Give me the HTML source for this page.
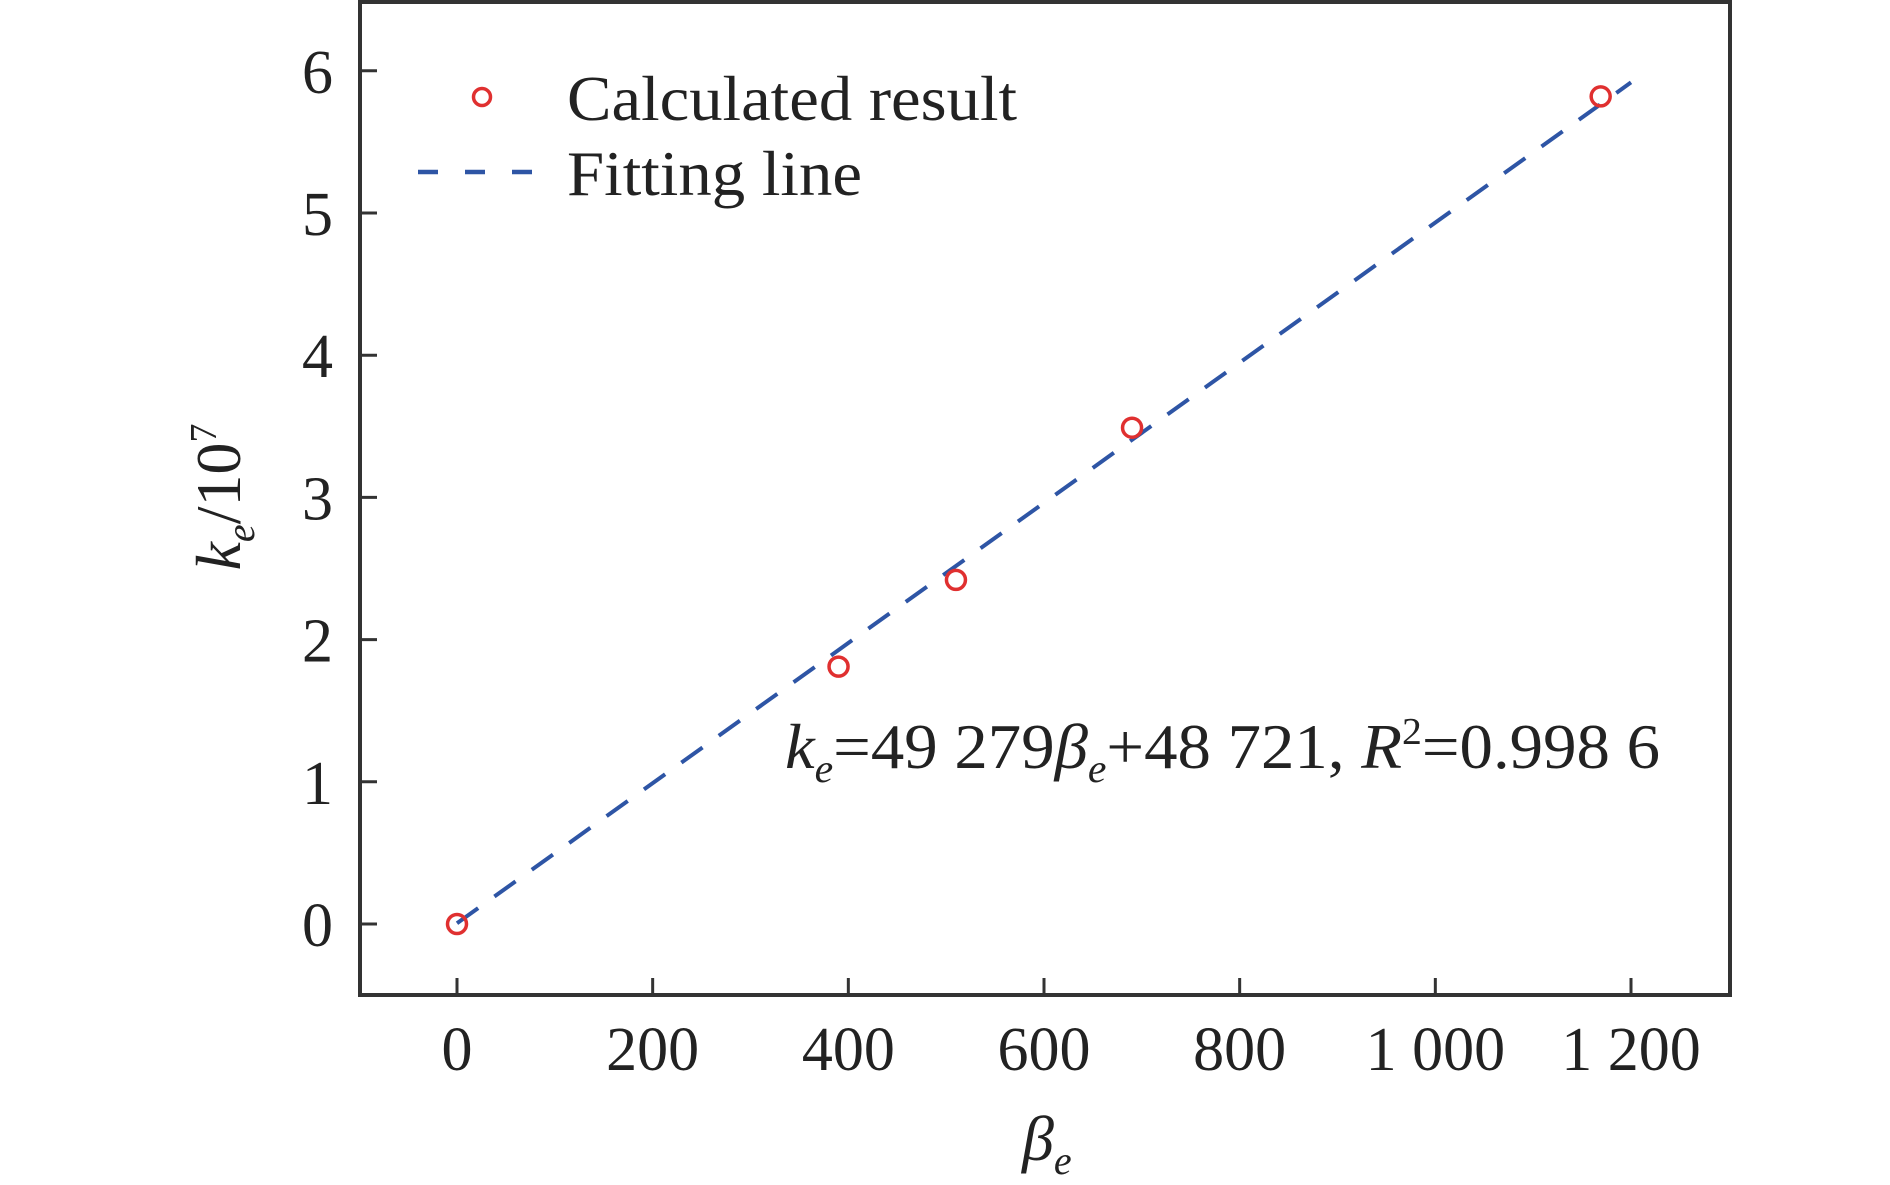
<!DOCTYPE html>
<html><head><meta charset="utf-8"><style>
html,body{margin:0;padding:0;background:#fff;}
svg{display:block;font-family:"Liberation Serif","Times New Roman",serif;}
</style></head><body>
<svg id="chart" width="1890" height="1185" viewBox="0 0 1890 1185" xmlns="http://www.w3.org/2000/svg">
<rect x="360" y="2" width="1370" height="993" fill="none" stroke="#333" stroke-width="4"/>
<g id="xticks"></g>
<g id="yticks"></g>
<g id="fit"></g>
<g id="pts"></g>
<g>
<circle cx="482" cy="97" r="8.5" fill="none" stroke="#e03030" stroke-width="3.5"/>
<text x="567" y="120" font-size="64" fill="#222" textLength="450" lengthAdjust="spacingAndGlyphs">Calculated result</text>
<line x1="418" y1="172" x2="551" y2="172" stroke="#2e55a5" stroke-width="4.5" stroke-dasharray="20,27"/>
<text x="567" y="195" font-size="64" fill="#222" textLength="295" lengthAdjust="spacingAndGlyphs">Fitting line</text>
</g>
<text x="785" y="768" font-size="64" fill="#222" textLength="875" lengthAdjust="spacingAndGlyphs"><tspan font-style="italic">k</tspan><tspan font-style="italic" font-size="40" dy="14">e</tspan><tspan dy="-14">=49 279</tspan><tspan font-style="italic">β</tspan><tspan font-style="italic" font-size="40" dy="14">e</tspan><tspan dy="-14">+48 721, </tspan><tspan font-style="italic">R</tspan><tspan font-size="38" dy="-24">2</tspan><tspan dy="24">=0.998 6</tspan></text>
<text x="1022" y="1160" font-size="64" fill="#222" font-style="italic">β<tspan font-size="40" dy="14">e</tspan></text>
<text transform="translate(240,497) rotate(-90)" text-anchor="middle" font-size="64" fill="#222"><tspan font-style="italic">k</tspan><tspan font-style="italic" font-size="40" dy="14">e</tspan><tspan dy="-14">/10</tspan><tspan font-size="38" dy="-24">7</tspan></text>
</svg>
<script>
const categories = [0, 390, 510, 690, 1169];
const values = [0, 1.81, 2.42, 3.49, 5.82];
const fitSlope = 49279 / 1e7;
const fitIntercept = 48721 / 1e7;
const fitRange = [0, 1200];
const xTicks = [0, 200, 400, 600, 800, 1000, 1200];
const xTickLabels = ["0", "200", "400", "600", "800", "1 000", "1 200"];
const yTicks = [0, 1, 2, 3, 4, 5, 6];
const yTickLabels = ["0", "1", "2", "3", "4", "5", "6"];

const NS = "http://www.w3.org/2000/svg";
function xs(v){ return 457 + v * (1631 - 457) / 1200; }
function ys(v){ return 924 - v * 142.2; }
function mk(tag, attrs, parent){
  const e = document.createElementNS(NS, tag);
  for (const k in attrs) e.setAttribute(k, attrs[k]);
  parent.appendChild(e); return e;
}
const gx = document.getElementById('xticks');
xTicks.forEach((t, i) => {
  const l = mk('line', {x1: xs(t), x2: xs(t), y1: 995, y2: 978, stroke: '#333', 'stroke-width': 3}, gx);
  
  
  const tx = mk('text', {x: xs(t), y: 1070, 'text-anchor': 'middle', 'font-size': 62, fill: '#222'}, gx);
  
  
  tx.textContent = xTickLabels[i];
});
const gy = document.getElementById('yticks');
yTicks.forEach((t, i) => {
  const l = mk('line', {x1: 360, x2: 377, y1: ys(t), y2: ys(t), stroke: '#333', 'stroke-width': 3}, gy);
  
  
  const tx = mk('text', {x: 333, y: ys(t) + 22, 'text-anchor': 'end', 'font-size': 62, fill: '#222'}, gy);
  
  
  tx.textContent = yTickLabels[i];
});
const gf = document.getElementById('fit');
const fl = mk('line', {x1: xs(fitRange[0]), y1: ys(fitSlope*fitRange[0]+fitIntercept), x2: xs(fitRange[1]), y2: ys(fitSlope*fitRange[1]+fitIntercept), stroke: '#2e55a5', 'stroke-width': 4, 'stroke-dasharray': '26,20'}, gf);


const gp = document.getElementById('pts');
categories.forEach((c, i) => {
  const p = mk('circle', {cx: xs(c), cy: ys(values[i]), r: 9.5, fill: 'none', stroke: '#e03030', 'stroke-width': 3.5}, gp);
  
  
});
</script>
</body></html>
